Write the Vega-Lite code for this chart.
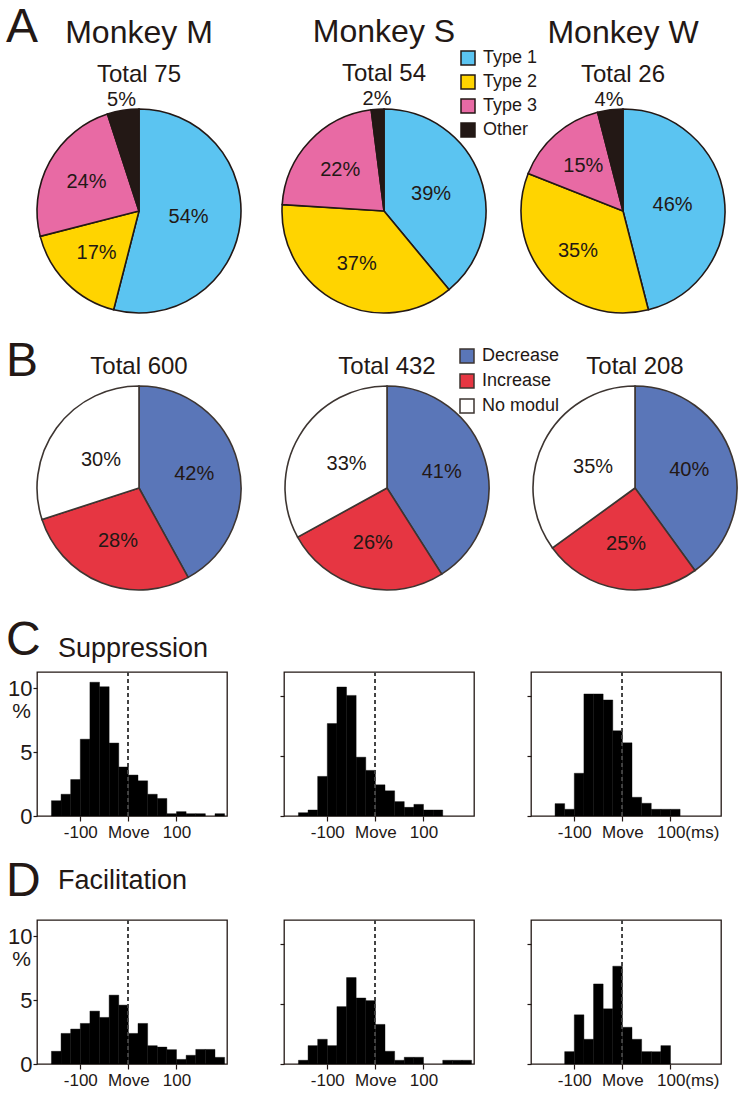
{
  "$schema": "https://vega.github.io/schema/vega-lite/v6.json",
  "padding": {"left": 6, "top": 4, "right": 0, "bottom": 0},
  "background": "white",
  "datasets": {
    "types": [
      {"monkey": "M", "type": "Type 1", "k": 1, "p": 0.54},
      {"monkey": "M", "type": "Type 2", "k": 2, "p": 0.17},
      {"monkey": "M", "type": "Type 3", "k": 3, "p": 0.24},
      {"monkey": "M", "type": "Other", "k": 4, "p": 0.05},
      {"monkey": "S", "type": "Type 1", "k": 1, "p": 0.39},
      {"monkey": "S", "type": "Type 2", "k": 2, "p": 0.37},
      {"monkey": "S", "type": "Type 3", "k": 3, "p": 0.22},
      {"monkey": "S", "type": "Other", "k": 4, "p": 0.02},
      {"monkey": "W", "type": "Type 1", "k": 1, "p": 0.46},
      {"monkey": "W", "type": "Type 2", "k": 2, "p": 0.35},
      {"monkey": "W", "type": "Type 3", "k": 3, "p": 0.15},
      {"monkey": "W", "type": "Other", "k": 4, "p": 0.04}
    ],
    "mods": [
      {"monkey": "M", "mod": "Decrease", "k": 1, "p": 0.42},
      {"monkey": "M", "mod": "Increase", "k": 2, "p": 0.28},
      {"monkey": "M", "mod": "No modul", "k": 3, "p": 0.30},
      {"monkey": "S", "mod": "Decrease", "k": 1, "p": 0.41},
      {"monkey": "S", "mod": "Increase", "k": 2, "p": 0.26},
      {"monkey": "S", "mod": "No modul", "k": 3, "p": 0.33},
      {"monkey": "W", "mod": "Decrease", "k": 1, "p": 0.40},
      {"monkey": "W", "mod": "Increase", "k": 2, "p": 0.25},
      {"monkey": "W", "mod": "No modul", "k": 3, "p": 0.35}
    ],
    "hist": [
      {"cond": "S", "monkey": "M", "t0": -160, "t1": -140, "pct": 1.2},
      {"cond": "S", "monkey": "M", "t0": -140, "t1": -120, "pct": 1.7},
      {"cond": "S", "monkey": "M", "t0": -120, "t1": -100, "pct": 2.85},
      {"cond": "S", "monkey": "M", "t0": -100, "t1": -80, "pct": 6.0},
      {"cond": "S", "monkey": "M", "t0": -80, "t1": -60, "pct": 10.45},
      {"cond": "S", "monkey": "M", "t0": -60, "t1": -40, "pct": 10.1},
      {"cond": "S", "monkey": "M", "t0": -40, "t1": -20, "pct": 5.7},
      {"cond": "S", "monkey": "M", "t0": -20, "t1": 0, "pct": 3.83},
      {"cond": "S", "monkey": "M", "t0": 0, "t1": 20, "pct": 3.2},
      {"cond": "S", "monkey": "M", "t0": 20, "t1": 40, "pct": 2.75},
      {"cond": "S", "monkey": "M", "t0": 40, "t1": 60, "pct": 1.7},
      {"cond": "S", "monkey": "M", "t0": 60, "t1": 80, "pct": 1.37},
      {"cond": "S", "monkey": "M", "t0": 80, "t1": 100, "pct": 0.18},
      {"cond": "S", "monkey": "M", "t0": 100, "t1": 120, "pct": 0.34},
      {"cond": "S", "monkey": "M", "t0": 120, "t1": 140, "pct": 0.18},
      {"cond": "S", "monkey": "M", "t0": 140, "t1": 160, "pct": 0.18},
      {"cond": "S", "monkey": "M", "t0": 180, "t1": 200, "pct": 0.18},
      {"cond": "S", "monkey": "S", "t0": -160, "t1": -140, "pct": 0.28},
      {"cond": "S", "monkey": "S", "t0": -140, "t1": -120, "pct": 0.5},
      {"cond": "S", "monkey": "S", "t0": -120, "t1": -100, "pct": 3.3},
      {"cond": "S", "monkey": "S", "t0": -100, "t1": -80, "pct": 7.7},
      {"cond": "S", "monkey": "S", "t0": -80, "t1": -60, "pct": 10.75},
      {"cond": "S", "monkey": "S", "t0": -60, "t1": -40, "pct": 10.05},
      {"cond": "S", "monkey": "S", "t0": -40, "t1": -20, "pct": 4.9},
      {"cond": "S", "monkey": "S", "t0": -20, "t1": 0, "pct": 3.8},
      {"cond": "S", "monkey": "S", "t0": 0, "t1": 20, "pct": 2.6},
      {"cond": "S", "monkey": "S", "t0": 20, "t1": 40, "pct": 2.1},
      {"cond": "S", "monkey": "S", "t0": 40, "t1": 60, "pct": 1.2},
      {"cond": "S", "monkey": "S", "t0": 60, "t1": 80, "pct": 0.72},
      {"cond": "S", "monkey": "S", "t0": 80, "t1": 100, "pct": 0.97},
      {"cond": "S", "monkey": "S", "t0": 100, "t1": 120, "pct": 0.5},
      {"cond": "S", "monkey": "S", "t0": 120, "t1": 140, "pct": 0.5},
      {"cond": "S", "monkey": "W", "t0": -140, "t1": -120, "pct": 1.03},
      {"cond": "S", "monkey": "W", "t0": -120, "t1": -100, "pct": 0.56},
      {"cond": "S", "monkey": "W", "t0": -100, "t1": -80, "pct": 3.56},
      {"cond": "S", "monkey": "W", "t0": -80, "t1": -60, "pct": 10.17},
      {"cond": "S", "monkey": "W", "t0": -60, "t1": -40, "pct": 10.17},
      {"cond": "S", "monkey": "W", "t0": -40, "t1": -20, "pct": 9.67},
      {"cond": "S", "monkey": "W", "t0": -20, "t1": 0, "pct": 7.1},
      {"cond": "S", "monkey": "W", "t0": 0, "t1": 20, "pct": 6.1},
      {"cond": "S", "monkey": "W", "t0": 20, "t1": 40, "pct": 1.56},
      {"cond": "S", "monkey": "W", "t0": 40, "t1": 60, "pct": 1.06},
      {"cond": "S", "monkey": "W", "t0": 60, "t1": 80, "pct": 0.56},
      {"cond": "S", "monkey": "W", "t0": 80, "t1": 100, "pct": 0.56},
      {"cond": "S", "monkey": "W", "t0": 100, "t1": 120, "pct": 0.56},
      {"cond": "F", "monkey": "M", "t0": -160, "t1": -140, "pct": 0.99},
      {"cond": "F", "monkey": "M", "t0": -140, "t1": -120, "pct": 2.39},
      {"cond": "F", "monkey": "M", "t0": -120, "t1": -100, "pct": 2.73},
      {"cond": "F", "monkey": "M", "t0": -100, "t1": -80, "pct": 3.17},
      {"cond": "F", "monkey": "M", "t0": -80, "t1": -60, "pct": 4.13},
      {"cond": "F", "monkey": "M", "t0": -60, "t1": -40, "pct": 3.64},
      {"cond": "F", "monkey": "M", "t0": -40, "t1": -20, "pct": 5.38},
      {"cond": "F", "monkey": "M", "t0": -20, "t1": 0, "pct": 4.6},
      {"cond": "F", "monkey": "M", "t0": 0, "t1": 20, "pct": 2.39},
      {"cond": "F", "monkey": "M", "t0": 20, "t1": 40, "pct": 3.17},
      {"cond": "F", "monkey": "M", "t0": 40, "t1": 60, "pct": 1.43},
      {"cond": "F", "monkey": "M", "t0": 60, "t1": 80, "pct": 1.32},
      {"cond": "F", "monkey": "M", "t0": 80, "t1": 100, "pct": 1.12},
      {"cond": "F", "monkey": "M", "t0": 100, "t1": 120, "pct": 0.36},
      {"cond": "F", "monkey": "M", "t0": 120, "t1": 140, "pct": 0.68},
      {"cond": "F", "monkey": "M", "t0": 140, "t1": 160, "pct": 1.14},
      {"cond": "F", "monkey": "M", "t0": 160, "t1": 180, "pct": 1.14},
      {"cond": "F", "monkey": "M", "t0": 180, "t1": 200, "pct": 0.52},
      {"cond": "F", "monkey": "S", "t0": -160, "t1": -140, "pct": 0.31},
      {"cond": "F", "monkey": "S", "t0": -140, "t1": -120, "pct": 1.53},
      {"cond": "F", "monkey": "S", "t0": -120, "t1": -100, "pct": 2.06},
      {"cond": "F", "monkey": "S", "t0": -100, "t1": -80, "pct": 1.53},
      {"cond": "F", "monkey": "S", "t0": -80, "t1": -60, "pct": 4.78},
      {"cond": "F", "monkey": "S", "t0": -60, "t1": -40, "pct": 7.2},
      {"cond": "F", "monkey": "S", "t0": -40, "t1": -20, "pct": 5.5},
      {"cond": "F", "monkey": "S", "t0": -20, "t1": 0, "pct": 5.28},
      {"cond": "F", "monkey": "S", "t0": 0, "t1": 20, "pct": 3.3},
      {"cond": "F", "monkey": "S", "t0": 20, "t1": 40, "pct": 1.06},
      {"cond": "F", "monkey": "S", "t0": 40, "t1": 60, "pct": 0.31},
      {"cond": "F", "monkey": "S", "t0": 60, "t1": 80, "pct": 0.56},
      {"cond": "F", "monkey": "S", "t0": 80, "t1": 100, "pct": 0.56},
      {"cond": "F", "monkey": "S", "t0": 140, "t1": 160, "pct": 0.31},
      {"cond": "F", "monkey": "S", "t0": 160, "t1": 180, "pct": 0.31},
      {"cond": "F", "monkey": "S", "t0": 180, "t1": 200, "pct": 0.31},
      {"cond": "F", "monkey": "W", "t0": -120, "t1": -100, "pct": 1.03},
      {"cond": "F", "monkey": "W", "t0": -100, "t1": -80, "pct": 4.1},
      {"cond": "F", "monkey": "W", "t0": -80, "t1": -60, "pct": 2.06},
      {"cond": "F", "monkey": "W", "t0": -60, "t1": -40, "pct": 6.67},
      {"cond": "F", "monkey": "W", "t0": -40, "t1": -20, "pct": 4.6},
      {"cond": "F", "monkey": "W", "t0": -20, "t1": 0, "pct": 8.15},
      {"cond": "F", "monkey": "W", "t0": 0, "t1": 20, "pct": 3.06},
      {"cond": "F", "monkey": "W", "t0": 20, "t1": 40, "pct": 2.06},
      {"cond": "F", "monkey": "W", "t0": 40, "t1": 60, "pct": 1.03},
      {"cond": "F", "monkey": "W", "t0": 60, "t1": 80, "pct": 1.03},
      {"cond": "F", "monkey": "W", "t0": 80, "t1": 100, "pct": 1.53}
    ]
  },
  "spacing": 22,
  "resolve": {"scale": {"color": "independent"}, "legend": {"color": "independent"}},
  "vconcat": [
    {
      "spacing": 17,
      "resolve": {"scale": {"color": "independent"}, "legend": {"color": "independent"}},
      "vconcat": [
        {
          "spacing": 27,
          "title": {"text": "A", "fontSize": 48, "anchor": "start", "frame": "group", "dx": -31, "dy": 36, "offset": 0},
          "hconcat": [
            {
              "width": 204, "height": 204, "view": {"stroke": null},
              "data": {"name": "types"},
              "title": {"text": "Monkey M", "subtitle": "Total 75", "fontSize": 32, "subtitleFontSize": 24, "subtitlePadding": 13, "offset": 2},
              "transform": [{"filter": "datum.monkey == 'M'"}],
              "encoding": {"theta": {"field": "p", "type": "quantitative", "stack": true}, "order": {"field": "k", "type": "quantitative"}},
              "layer": [
                {"mark": {"type": "arc", "stroke": "#231815", "strokeWidth": 1.6},
                 "encoding": {"color": {"field": "type", "type": "nominal", "scale": {"domain": ["Type 1", "Type 2", "Type 3", "Other"], "range": ["#5BC4F1", "#FFD400", "#E86AA4", "#231815"]},
                   "legend": {"orient": "none", "legendX": 422, "legendY": -60, "title": null, "padding": 0, "symbolType": "square", "symbolSize": 196, "symbolStrokeColor": "#231815", "symbolStrokeWidth": 1.5, "labelFontSize": 18, "labelFont": "Liberation Sans", "labelColor": "#231815", "labelOffset": 6, "rowPadding": 4}}}},
                {"mark": {"type": "text", "radius": 50, "fontSize": 20, "color": "#231815"}, "encoding": {"text": {"field": "p", "type": "quantitative", "format": ".0%", "condition": {"test": "datum.k != 1", "value": ""}}}},
                {"mark": {"type": "text", "radius": 60, "fontSize": 20, "color": "#231815"}, "encoding": {"text": {"field": "p", "type": "quantitative", "format": ".0%", "condition": {"test": "datum.k != 2 && datum.k != 3", "value": ""}}}},
                {"mark": {"type": "text", "radius": 112, "fontSize": 20, "color": "#231815"}, "encoding": {"text": {"field": "p", "type": "quantitative", "format": ".0%", "condition": {"test": "datum.k != 4", "value": ""}}}}
              ]
            },
            {
              "width": 204, "height": 204, "view": {"stroke": null},
              "data": {"name": "types"},
              "title": {"text": "Monkey S", "subtitle": "Total 54", "fontSize": 32, "subtitleFontSize": 24, "subtitlePadding": 13, "offset": 2},
              "transform": [{"filter": "datum.monkey == 'S'"}],
              "encoding": {"theta": {"field": "p", "type": "quantitative", "stack": true}, "order": {"field": "k", "type": "quantitative"}},
              "layer": [
                {"mark": {"type": "arc", "stroke": "#231815", "strokeWidth": 1.6},
                 "encoding": {"color": {"field": "type", "type": "nominal", "scale": {"domain": ["Type 1", "Type 2", "Type 3", "Other"], "range": ["#5BC4F1", "#FFD400", "#E86AA4", "#231815"]},
                   "legend": {"orient": "none", "legendX": 422, "legendY": -60, "title": null, "padding": 0, "symbolType": "square", "symbolSize": 196, "symbolStrokeColor": "#231815", "symbolStrokeWidth": 1.5, "labelFontSize": 18, "labelFont": "Liberation Sans", "labelColor": "#231815", "labelOffset": 6, "rowPadding": 4}}}},
                {"mark": {"type": "text", "radius": 50, "fontSize": 20, "color": "#231815"}, "encoding": {"text": {"field": "p", "type": "quantitative", "format": ".0%", "condition": {"test": "datum.k != 1", "value": ""}}}},
                {"mark": {"type": "text", "radius": 60, "fontSize": 20, "color": "#231815"}, "encoding": {"text": {"field": "p", "type": "quantitative", "format": ".0%", "condition": {"test": "datum.k != 2 && datum.k != 3", "value": ""}}}},
                {"mark": {"type": "text", "radius": 112, "fontSize": 20, "color": "#231815"}, "encoding": {"text": {"field": "p", "type": "quantitative", "format": ".0%", "condition": {"test": "datum.k != 4", "value": ""}}}}
              ]
            },
            {
              "width": 204, "height": 204, "view": {"stroke": null},
              "data": {"name": "types"},
              "title": {"text": "Monkey W", "subtitle": "Total 26", "fontSize": 32, "subtitleFontSize": 24, "subtitlePadding": 13, "offset": 2},
              "transform": [{"filter": "datum.monkey == 'W'"}],
              "encoding": {"theta": {"field": "p", "type": "quantitative", "stack": true}, "order": {"field": "k", "type": "quantitative"}},
              "layer": [
                {"mark": {"type": "arc", "stroke": "#231815", "strokeWidth": 1.6},
                 "encoding": {"color": {"field": "type", "type": "nominal", "scale": {"domain": ["Type 1", "Type 2", "Type 3", "Other"], "range": ["#5BC4F1", "#FFD400", "#E86AA4", "#231815"]},
                   "legend": {"orient": "none", "legendX": 422, "legendY": -60, "title": null, "padding": 0, "symbolType": "square", "symbolSize": 196, "symbolStrokeColor": "#231815", "symbolStrokeWidth": 1.5, "labelFontSize": 18, "labelFont": "Liberation Sans", "labelColor": "#231815", "labelOffset": 6, "rowPadding": 4}}}},
                {"mark": {"type": "text", "radius": 50, "fontSize": 20, "color": "#231815"}, "encoding": {"text": {"field": "p", "type": "quantitative", "format": ".0%", "condition": {"test": "datum.k != 1", "value": ""}}}},
                {"mark": {"type": "text", "radius": 60, "fontSize": 20, "color": "#231815"}, "encoding": {"text": {"field": "p", "type": "quantitative", "format": ".0%", "condition": {"test": "datum.k != 2 && datum.k != 3", "value": ""}}}},
                {"mark": {"type": "text", "radius": 112, "fontSize": 20, "color": "#231815"}, "encoding": {"text": {"field": "p", "type": "quantitative", "format": ".0%", "condition": {"test": "datum.k != 4", "value": ""}}}}
              ]
            }
          ]
        },
        {
          "spacing": 36,
          "title": {"text": "B", "fontSize": 48, "anchor": "start", "frame": "group", "dx": -31, "dy": 39, "offset": 0},
          "hconcat": [
            {
              "width": 204, "height": 204, "view": {"stroke": null},
              "data": {"name": "mods"},
              "title": {"text": "Total 600", "fontSize": 24, "offset": 4},
              "transform": [{"filter": "datum.monkey == 'M'"}],
              "encoding": {"theta": {"field": "p", "type": "quantitative", "stack": true}, "order": {"field": "k", "type": "quantitative"}},
              "layer": [
                {"mark": {"type": "arc", "stroke": "#3d3531", "strokeWidth": 1.6},
                 "encoding": {"color": {"field": "mod", "type": "nominal", "scale": {"domain": ["Decrease", "Increase", "No modul"], "range": ["#5A76B8", "#E63642", "#FFFFFF"]},
                   "legend": {"orient": "none", "legendX": 421, "legendY": -39, "title": null, "padding": 0, "symbolType": "square", "symbolSize": 196, "symbolStrokeColor": "#3d3531", "symbolStrokeWidth": 1.5, "labelFontSize": 18, "labelFont": "Liberation Sans", "labelColor": "#231815", "labelOffset": 6, "rowPadding": 5}}}},
                {"mark": {"type": "text", "radius": 57, "fontSize": 20, "color": "#231815"}, "encoding": {"text": {"field": "p", "type": "quantitative", "format": ".0%", "condition": {"test": "datum.k == 3", "value": ""}}}},
                {"mark": {"type": "text", "radius": 47, "fontSize": 20, "color": "#231815"}, "encoding": {"text": {"field": "p", "type": "quantitative", "format": ".0%", "condition": {"test": "datum.k != 3", "value": ""}}}}
              ]
            },
            {
              "width": 204, "height": 204, "view": {"stroke": null},
              "data": {"name": "mods"},
              "title": {"text": "Total 432", "fontSize": 24, "offset": 4},
              "transform": [{"filter": "datum.monkey == 'S'"}],
              "encoding": {"theta": {"field": "p", "type": "quantitative", "stack": true}, "order": {"field": "k", "type": "quantitative"}},
              "layer": [
                {"mark": {"type": "arc", "stroke": "#3d3531", "strokeWidth": 1.6},
                 "encoding": {"color": {"field": "mod", "type": "nominal", "scale": {"domain": ["Decrease", "Increase", "No modul"], "range": ["#5A76B8", "#E63642", "#FFFFFF"]},
                   "legend": {"orient": "none", "legendX": 421, "legendY": -39, "title": null, "padding": 0, "symbolType": "square", "symbolSize": 196, "symbolStrokeColor": "#3d3531", "symbolStrokeWidth": 1.5, "labelFontSize": 18, "labelFont": "Liberation Sans", "labelColor": "#231815", "labelOffset": 6, "rowPadding": 5}}}},
                {"mark": {"type": "text", "radius": 57, "fontSize": 20, "color": "#231815"}, "encoding": {"text": {"field": "p", "type": "quantitative", "format": ".0%", "condition": {"test": "datum.k == 3", "value": ""}}}},
                {"mark": {"type": "text", "radius": 47, "fontSize": 20, "color": "#231815"}, "encoding": {"text": {"field": "p", "type": "quantitative", "format": ".0%", "condition": {"test": "datum.k != 3", "value": ""}}}}
              ]
            },
            {
              "width": 204, "height": 204, "view": {"stroke": null},
              "data": {"name": "mods"},
              "title": {"text": "Total 208", "fontSize": 24, "offset": 4},
              "transform": [{"filter": "datum.monkey == 'W'"}],
              "encoding": {"theta": {"field": "p", "type": "quantitative", "stack": true}, "order": {"field": "k", "type": "quantitative"}},
              "layer": [
                {"mark": {"type": "arc", "stroke": "#3d3531", "strokeWidth": 1.6},
                 "encoding": {"color": {"field": "mod", "type": "nominal", "scale": {"domain": ["Decrease", "Increase", "No modul"], "range": ["#5A76B8", "#E63642", "#FFFFFF"]},
                   "legend": {"orient": "none", "legendX": 421, "legendY": -39, "title": null, "padding": 0, "symbolType": "square", "symbolSize": 196, "symbolStrokeColor": "#3d3531", "symbolStrokeWidth": 1.5, "labelFontSize": 18, "labelFont": "Liberation Sans", "labelColor": "#231815", "labelOffset": 6, "rowPadding": 5}}}},
                {"mark": {"type": "text", "radius": 57, "fontSize": 20, "color": "#231815"}, "encoding": {"text": {"field": "p", "type": "quantitative", "format": ".0%", "condition": {"test": "datum.k == 3", "value": ""}}}},
                {"mark": {"type": "text", "radius": 47, "fontSize": 20, "color": "#231815"}, "encoding": {"text": {"field": "p", "type": "quantitative", "format": ".0%", "condition": {"test": "datum.k != 3", "value": ""}}}}
              ]
            }
          ]
        }
      ]
    },
    {
      "spacing": 16,
      "vconcat": [
        {
          "spacing": 50,
          "title": {"text": "C", "fontSize": 48, "anchor": "start", "frame": "group", "dx": -31, "dy": 30, "offset": 0},
          "hconcat": [
            {
              "width": 190, "height": 144,
              "data": {"name": "hist"},
              "title": {"text": "Suppression", "anchor": "start", "frame": "group", "fontSize": 27, "dx": 21, "offset": 8},
              "transform": [{"filter": "datum.cond == 'S' && datum.monkey == 'M'"}],
              "layer": [
                {"mark": {"type": "rect", "color": "black", "stroke": "black", "strokeWidth": 0.4},
                 "encoding": {
                   "x": {"field": "t0", "type": "quantitative", "scale": {"domain": [-190, 205], "nice": false, "zero": false},
                     "axis": {"values": [-100, 0, 100], "labelExpr": "datum.value == 0 ? 'Move' : (datum.value < 0 ? '-100' : '100')", "title": null, "domain": false, "tickSize": 5, "labelFontSize": 17, "labelPadding": 3, "labelFlush": false}},
                   "x2": {"field": "t1"},
                   "y": {"field": "pct", "type": "quantitative", "scale": {"domain": [0, 11.25], "nice": false},
                     "axis": {"values": [0, 5, 10], "title": "%", "titleAngle": 0, "titleX": -16, "titleY": 39.5, "titleAlign": "center", "titleBaseline": "middle", "titleFontSize": 21, "labelFontSize": 22, "tickSize": 4, "labelPadding": 1, "domain": false, "labelBaseline": "middle"}},
                   "y2": {"datum": 0}
                 }},
                {"mark": {"type": "rule", "strokeDash": [4, 3], "color": "#444444", "strokeWidth": 1.2}, "encoding": {"x": {"datum": 0}}}
              ]
            },
            {
              "width": 190, "height": 144,
              "data": {"name": "hist"},
              "transform": [{"filter": "datum.cond == 'S' && datum.monkey == 'S'"}],
              "layer": [
                {"mark": {"type": "rect", "color": "black", "stroke": "black", "strokeWidth": 0.4},
                 "encoding": {
                   "x": {"field": "t0", "type": "quantitative", "scale": {"domain": [-190, 205], "nice": false, "zero": false},
                     "axis": {"values": [-100, 0, 100], "labelExpr": "datum.value == 0 ? 'Move' : (datum.value < 0 ? '-100' : '100')", "title": null, "domain": false, "tickSize": 5, "labelFontSize": 17, "labelPadding": 3, "labelFlush": false}},
                   "x2": {"field": "t1"},
                   "y": {"field": "pct", "type": "quantitative", "scale": {"domain": [0, 12], "nice": false},
                     "axis": {"values": [0, 5, 10], "title": null, "labels": false, "tickSize": 4, "domain": false}},
                   "y2": {"datum": 0}
                 }},
                {"mark": {"type": "rule", "strokeDash": [4, 3], "color": "#444444", "strokeWidth": 1.2}, "encoding": {"x": {"datum": 0}}}
              ]
            },
            {
              "width": 190, "height": 144,
              "data": {"name": "hist"},
              "transform": [{"filter": "datum.cond == 'S' && datum.monkey == 'W'"}],
              "layer": [
                {"mark": {"type": "rect", "color": "black", "stroke": "black", "strokeWidth": 0.4},
                 "encoding": {
                   "x": {"field": "t0", "type": "quantitative", "scale": {"domain": [-190, 205], "nice": false, "zero": false},
                     "axis": {"values": [-100, 0, 100], "labelExpr": "datum.value == 0 ? 'Move' : (datum.value < 0 ? '-100' : '100(ms)')", "labelAlign": {"condition": {"test": "datum.value == 100", "value": "left"}, "value": "center"}, "labelOffset": {"condition": {"test": "datum.value == 100", "value": -14}, "value": 0}, "title": null, "domain": false, "tickSize": 5, "labelFontSize": 17, "labelPadding": 3, "labelFlush": false}},
                   "x2": {"field": "t1"},
                   "y": {"field": "pct", "type": "quantitative", "scale": {"domain": [0, 12], "nice": false},
                     "axis": {"values": [0, 5, 10], "title": null, "labels": false, "tickSize": 4, "domain": false}},
                   "y2": {"datum": 0}
                 }},
                {"mark": {"type": "rule", "strokeDash": [4, 3], "color": "#444444", "strokeWidth": 1.2}, "encoding": {"x": {"datum": 0}}}
              ]
            }
          ]
        },
        {
          "spacing": 50,
          "title": {"text": "D", "fontSize": 48, "anchor": "start", "frame": "group", "dx": -31, "dy": 39, "offset": 0},
          "hconcat": [
            {
              "width": 190, "height": 144,
              "data": {"name": "hist"},
              "title": {"text": "Facilitation", "anchor": "start", "frame": "group", "fontSize": 27, "dx": 21, "offset": 24},
              "transform": [{"filter": "datum.cond == 'F' && datum.monkey == 'M'"}],
              "layer": [
                {"mark": {"type": "rect", "color": "black", "stroke": "black", "strokeWidth": 0.4},
                 "encoding": {
                   "x": {"field": "t0", "type": "quantitative", "scale": {"domain": [-190, 205], "nice": false, "zero": false},
                     "axis": {"values": [-100, 0, 100], "labelExpr": "datum.value == 0 ? 'Move' : (datum.value < 0 ? '-100' : '100')", "title": null, "domain": false, "tickSize": 5, "labelFontSize": 17, "labelPadding": 3, "labelFlush": false}},
                   "x2": {"field": "t1"},
                   "y": {"field": "pct", "type": "quantitative", "scale": {"domain": [0, 11.25], "nice": false},
                     "axis": {"values": [0, 5, 10], "title": "%", "titleAngle": 0, "titleX": -16, "titleY": 39.5, "titleAlign": "center", "titleBaseline": "middle", "titleFontSize": 21, "labelFontSize": 22, "tickSize": 4, "labelPadding": 1, "domain": false, "labelBaseline": "middle"}},
                   "y2": {"datum": 0}
                 }},
                {"mark": {"type": "rule", "strokeDash": [4, 3], "color": "#444444", "strokeWidth": 1.2}, "encoding": {"x": {"datum": 0}}}
              ]
            },
            {
              "width": 190, "height": 144,
              "data": {"name": "hist"},
              "transform": [{"filter": "datum.cond == 'F' && datum.monkey == 'S'"}],
              "layer": [
                {"mark": {"type": "rect", "color": "black", "stroke": "black", "strokeWidth": 0.4},
                 "encoding": {
                   "x": {"field": "t0", "type": "quantitative", "scale": {"domain": [-190, 205], "nice": false, "zero": false},
                     "axis": {"values": [-100, 0, 100], "labelExpr": "datum.value == 0 ? 'Move' : (datum.value < 0 ? '-100' : '100')", "title": null, "domain": false, "tickSize": 5, "labelFontSize": 17, "labelPadding": 3, "labelFlush": false}},
                   "x2": {"field": "t1"},
                   "y": {"field": "pct", "type": "quantitative", "scale": {"domain": [0, 12], "nice": false},
                     "axis": {"values": [0, 5, 10], "title": null, "labels": false, "tickSize": 4, "domain": false}},
                   "y2": {"datum": 0}
                 }},
                {"mark": {"type": "rule", "strokeDash": [4, 3], "color": "#444444", "strokeWidth": 1.2}, "encoding": {"x": {"datum": 0}}}
              ]
            },
            {
              "width": 190, "height": 144,
              "data": {"name": "hist"},
              "transform": [{"filter": "datum.cond == 'F' && datum.monkey == 'W'"}],
              "layer": [
                {"mark": {"type": "rect", "color": "black", "stroke": "black", "strokeWidth": 0.4},
                 "encoding": {
                   "x": {"field": "t0", "type": "quantitative", "scale": {"domain": [-190, 205], "nice": false, "zero": false},
                     "axis": {"values": [-100, 0, 100], "labelExpr": "datum.value == 0 ? 'Move' : (datum.value < 0 ? '-100' : '100(ms)')", "labelAlign": {"condition": {"test": "datum.value == 100", "value": "left"}, "value": "center"}, "labelOffset": {"condition": {"test": "datum.value == 100", "value": -14}, "value": 0}, "title": null, "domain": false, "tickSize": 5, "labelFontSize": 17, "labelPadding": 3, "labelFlush": false}},
                   "x2": {"field": "t1"},
                   "y": {"field": "pct", "type": "quantitative", "scale": {"domain": [0, 12], "nice": false},
                     "axis": {"values": [0, 5, 10], "title": null, "labels": false, "tickSize": 4, "domain": false}},
                   "y2": {"datum": 0}
                 }},
                {"mark": {"type": "rule", "strokeDash": [4, 3], "color": "#444444", "strokeWidth": 1.2}, "encoding": {"x": {"datum": 0}}}
              ]
            }
          ]
        }
      ]
    }
  ],
  "config": {
    "font": "Liberation Sans",
    "view": {"stroke": "#231815", "strokeWidth": 1.3},
    "title": {"font": "Liberation Sans", "fontWeight": "normal", "color": "#231815", "subtitleFont": "Liberation Sans", "subtitleColor": "#231815", "subtitleFontWeight": "normal"},
    "axis": {"grid": false, "labelFont": "Liberation Sans", "titleFont": "Liberation Sans", "titleFontWeight": "normal", "labelColor": "#231815", "titleColor": "#231815", "tickColor": "#231815", "tickWidth": 1.2, "labelOverlap": false},
    "legend": {"labelFont": "Liberation Sans"}
  }
}
